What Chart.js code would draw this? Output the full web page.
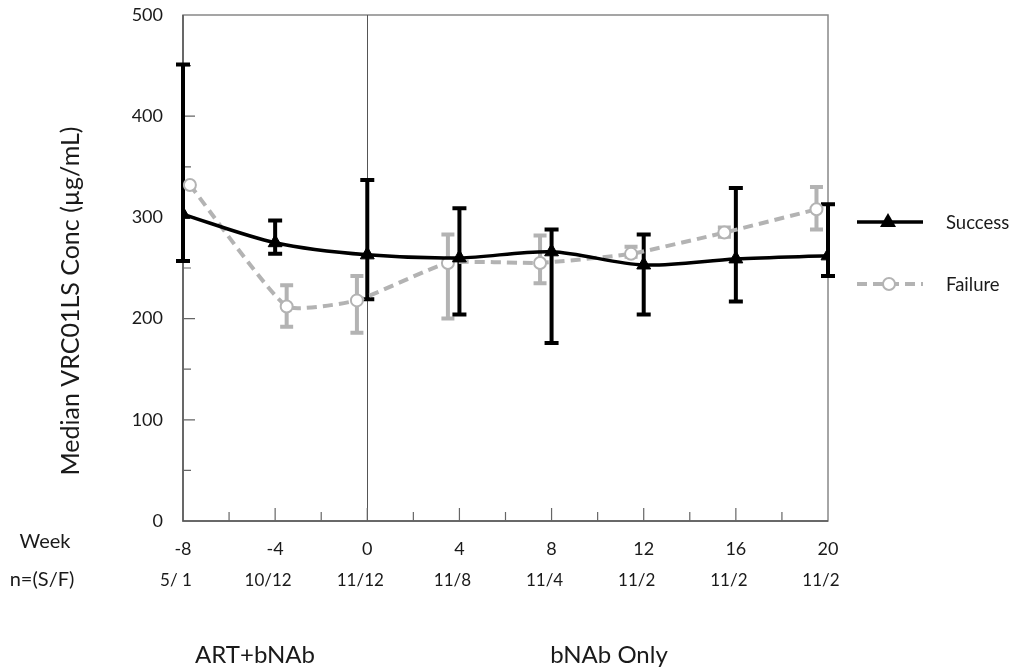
<!DOCTYPE html>
<html lang="en">
<head>
  <meta charset="UTF-8">
  <title>Median VRC01LS Concentration</title>
  <script src="https://cdn.jsdelivr.net/npm/chart.js"></script>
  <style>
    html, body { margin: 0; padding: 0; background: #fff; }
    #wrap { width: 1014px; height: 670px; }
  </style>
</head>
<body>
  <div id="wrap"><canvas id="concChart"></canvas></div>
  <script>
    // weeks and values
    const weeks = [-8, -4, 0, 4, 8, 12, 16, 20];
    const failureWeeks = [-7.7, -3.5, -0.45, 3.5, 7.5, 11.45, 15.5, 19.5];
    const successMedian = [303, 275, 263, 260, 266, 253, 259, 262];
    const successLow = [257, 264, 219, 204, 176, 204, 217, 242];
    const successHigh = [451, 297, 337, 309, 288, 283, 329, 313];
    const failureMedian = [332, 212, 218, 255, 255, 264, 285, 308];
    const failureLow = [null, 192, 186, 200, 235, 261, 281, 288];
    const failureHigh = [null, 233, 242, 283, 282, 271, 290, 330];
    const nLabels = ['5/ 1', '10/12', '11/12', '11/8', '11/4', '11/2', '11/2', '11/2'];
    const yTicks = [0, 100, 200, 300, 400, 500];

    const FONT = "'Lato', 'Carlito', sans-serif";
    const TEXT = '#1a1a1a';
    const GREY = '#b3b3b3';

    function drawErrorBars(ctx, xs, yScale, x, low, high, color, cap) {
      ctx.save();
      ctx.strokeStyle = color;
      ctx.lineWidth = 4;
      ctx.lineCap = 'butt';
      for (let i = 0; i < xs.length; i++) {
        if (low[i] == null) continue;
        const px = x.getPixelForValue(xs[i]);
        const y1 = yScale.getPixelForValue(low[i]);
        const y2 = yScale.getPixelForValue(high[i]);
        ctx.beginPath();
        ctx.moveTo(px, y1); ctx.lineTo(px, y2);
        ctx.moveTo(px - cap, y1); ctx.lineTo(px + cap, y1);
        ctx.moveTo(px - cap, y2); ctx.lineTo(px + cap, y2);
        ctx.stroke();
      }
      ctx.restore();
    }

    const decor = {
      id: 'decor',
      beforeDatasetsDraw(chart) {
        const { ctx, chartArea: a, scales: { x, y } } = chart;
        ctx.save();
        // frame
        ctx.strokeStyle = '#888';
        ctx.lineWidth = 1.5;
        ctx.strokeRect(a.left, a.top, a.right - a.left, a.bottom - a.top);
        ctx.strokeStyle = '#555';
        ctx.beginPath();
        ctx.moveTo(a.left, a.top); ctx.lineTo(a.left, a.bottom); ctx.lineTo(a.right, a.bottom);
        ctx.stroke();
        // week 0 divider
        ctx.lineWidth = 1;
        ctx.strokeStyle = '#555';
        const x0 = Math.round(x.getPixelForValue(0)) + 0.5;
        ctx.beginPath(); ctx.moveTo(x0, a.top); ctx.lineTo(x0, a.bottom); ctx.stroke();
        // inside ticks
        ctx.strokeStyle = '#666';
        ctx.lineWidth = 1.2;
        ctx.beginPath();
        for (let w = -6; w < 20; w += 2) {
          const px = x.getPixelForValue(w);
          const len = w % 4 === 0 ? 13 : 9;
          ctx.moveTo(px, a.bottom); ctx.lineTo(px, a.bottom - len);
        }
        for (let v = 50; v < 500; v += 50) {
          const py = y.getPixelForValue(v);
          const len = v % 100 === 0 ? 12 : 8;
          ctx.moveTo(a.left, py); ctx.lineTo(a.left + len, py);
        }
        ctx.stroke();
        ctx.restore();
        drawErrorBars(ctx, failureWeeks, y, x, failureLow, failureHigh, GREY, 6.5);
        drawErrorBars(ctx, weeks, y, x, successLow, successHigh, '#000', 7);
      },
      afterDraw(chart) {
        const { ctx, scales: { x } } = chart;
        ctx.save();
        ctx.fillStyle = TEXT;
        ctx.textBaseline = 'middle';
        ctx.textAlign = 'center';

        // y axis title
        ctx.save();
        ctx.translate(71, 301);
        ctx.rotate(-Math.PI / 2);
        ctx.font = `25px ${FONT}`;
        ctx.fillText('Median VRC01LS Conc (µg/mL)', 0, 0);
        ctx.restore();

        ctx.font = `20px ${FONT}`;
        ctx.fillText('Week', 45, 542);
        ctx.fillText('n=(S/F)', 42, 580);
        ctx.font = `17px ${FONT}`;
        weeks.forEach((w, i) => {
          ctx.fillText(nLabels[i], x.getPixelForValue(w) - 7, 581);
        });
        ctx.font = `24px ${FONT}`;
        ctx.fillText('ART+bNAb', 255, 655);
        ctx.fillText('bNAb Only', 609, 655);

        // legend
        const items = [
          { label: 'Success', y: 222, color: '#000', dash: [], style: 'triangle' },
          { label: 'Failure', y: 284, color: GREY, dash: [10, 6], style: 'circle' }
        ];
        items.forEach(it => {
          ctx.save();
          ctx.strokeStyle = it.color;
          ctx.lineWidth = it.style === 'triangle' ? 3.5 : 4;
          ctx.setLineDash(it.dash);
          ctx.beginPath(); ctx.moveTo(857, it.y); ctx.lineTo(923, it.y); ctx.stroke();
          ctx.setLineDash([]);
          if (it.style === 'triangle') {
            ctx.fillStyle = '#000';
            ctx.beginPath();
            ctx.moveTo(888, it.y - 9); ctx.lineTo(896, it.y + 5); ctx.lineTo(880, it.y + 5);
            ctx.closePath(); ctx.fill();
          } else {
            ctx.fillStyle = '#fff';
            ctx.lineWidth = 2;
            ctx.beginPath(); ctx.arc(889, it.y, 6, 0, Math.PI * 2); ctx.fill(); ctx.stroke();
          }
          ctx.restore();
          ctx.fillStyle = TEXT;
          ctx.textAlign = 'left';
          ctx.font = `18.5px ${FONT}`;
          ctx.fillText(it.label, 946, it.y + 1);
        });
        ctx.restore();
      }
    };

    new Chart(document.getElementById('concChart'), {
      type: 'line',
      data: {
        datasets: [
          {
            label: 'Success',
            data: weeks.map((w, i) => ({ x: w, y: successMedian[i] })),
            borderColor: '#000',
            backgroundColor: '#000',
            borderWidth: 3.5,
            pointStyle: 'triangle',
            pointRadius: 8,
            pointBorderWidth: 1,
            tension: 0.3
          },
          {
            label: 'Failure',
            data: failureWeeks.map((w, i) => ({ x: w, y: failureMedian[i] })),
            borderColor: GREY,
            backgroundColor: '#fff',
            borderWidth: 4,
            borderDash: [10, 6],
            pointStyle: 'circle',
            pointRadius: 6,
            pointBorderWidth: 2,
            pointBorderColor: GREY,
            pointBackgroundColor: '#fff',
            tension: 0.15
          }
        ]
      },
      options: {
        responsive: true,
        maintainAspectRatio: false,
        animation: false,
        layout: { padding: { left: 52, top: 15, right: 186, bottom: 0 } },
        plugins: { legend: { display: false }, tooltip: { enabled: false } },
        scales: {
          x: {
            type: 'linear',
            min: -8,
            max: 20,
            grid: { display: false, drawTicks: false },
            border: { display: false },
            afterBuildTicks: s => { s.ticks = weeks.map(v => ({ value: v })); },
            afterFit: s => { s.height = 149; s.paddingLeft = 0; s.paddingRight = 0; },
            ticks: { color: TEXT, font: { family: FONT, size: 18 }, padding: 17, maxRotation: 0 }
          },
          y: {
            min: 0,
            max: 500,
            grid: { display: false, drawTicks: false },
            border: { display: false },
            afterBuildTicks: s => { s.ticks = yTicks.map(v => ({ value: v })); },
            afterFit: s => { s.width = 131; s.paddingTop = 0; s.paddingBottom = 0; },
            ticks: { color: TEXT, font: { family: FONT, size: 18 }, padding: 20 }
          }
        }
      },
      plugins: [decor]
    });
  </script>
</body>
</html>
